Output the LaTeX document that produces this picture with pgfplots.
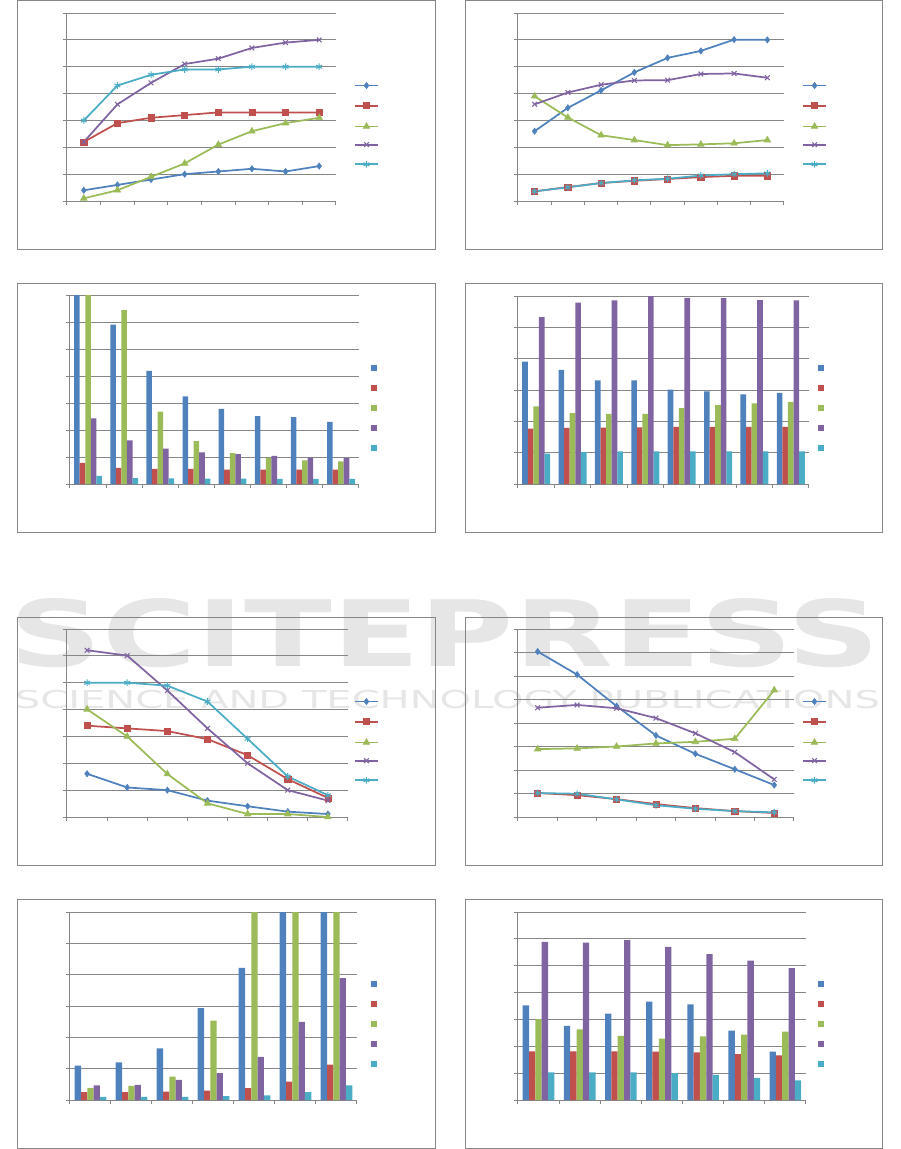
\documentclass[border=0pt]{standalone}
\usepackage{fontspec}
\setmainfont{DejaVu Sans}
\usepackage{graphicx}
\usepackage{pgfplots}
\pgfplotsset{compat=1.18}

\definecolor{xblue}{RGB}{79,129,189}
\definecolor{xred}{RGB}{192,80,77}
\definecolor{xgreen}{RGB}{155,187,89}
\definecolor{xpurple}{RGB}{128,100,162}
\definecolor{xcyan}{RGB}{75,172,198}
\definecolor{axgray}{RGB}{134,134,134}
\definecolor{wm}{RGB}{230,230,230}

\newcommand\legsp{\mbox{}}

\pgfplotsset{
  excel/.style={
    scale only axis, axis lines=left,
    axis line style={-, draw=axgray, line width=0.75pt},
    tick align=outside, major tick length=3pt,
    tick style={draw=axgray, line width=0.75pt},
    xticklabels={}, yticklabels={},
    ymajorgrids, grid style={draw=axgray, line width=0.75pt},
    ymin=0, ytick distance=1, xmin=0.5,
    legend cell align=left,
    legend style={draw=none, fill=none, anchor=west, inner sep=0pt,
      row sep=10.5pt, nodes={inner sep=0pt}},
  },
  lines/.style={excel, clip=false,
    every axis plot/.append style={line width=1.3pt},
    cycle list={
      {xblue, mark=diamond*, mark size=2.3pt, mark options={fill=xblue, line width=0.5pt}},
      {xred, mark=square*, mark size=2.3pt, mark options={fill=xred, line width=0.5pt}},
      {xgreen, mark=triangle*, mark size=2.8pt, mark options={fill=xgreen, line width=0.5pt}},
      {xpurple, mark=x, mark size=2.5pt, mark options={line width=0.8pt}},
      {xcyan, mark=asterisk, mark size=2.5pt, mark options={line width=0.8pt}}},
  },
  bars/.style={excel, ybar=0pt, bar width=0.154,
    every axis plot/.append style={fill, draw=none},
    cycle list={{xblue},{xred},{xgreen},{xpurple},{xcyan}},
    legend image code/.code={\fill[##1] (0pt,-2.25pt) rectangle (4.5pt,2.25pt);},
  },
}

\begin{document}
\begin{tikzpicture}
\path (0,0) rectangle (675.75pt,861.75pt);

% watermark
\node[wm, font=\bfseries, inner sep=0pt] at (333.75pt,387pt)
  {\resizebox*{652.5pt}{52pt}{SCITEPRESS}};
\node[wm, inner sep=0pt] at (335.6pt,337pt)
  {\resizebox*{648.75pt}{14pt}{SCIENCE AND TECHNOLOGY PUBLICATIONS}};

% frames
\draw[axgray, line width=0.75pt] (13.5pt,675pt) rectangle (326.6pt,861.4pt);
\draw[axgray, line width=0.75pt] (349.5pt,675pt) rectangle (662.25pt,861.4pt);
\draw[axgray, line width=0.75pt] (13.5pt,462.75pt) rectangle (326.6pt,649.1pt);
\draw[axgray, line width=0.75pt] (349.5pt,462.75pt) rectangle (662.25pt,649.1pt);
\draw[axgray, line width=0.75pt] (13.5pt,213pt) rectangle (326.6pt,399pt);
\draw[axgray, line width=0.75pt] (349.5pt,213pt) rectangle (662.25pt,399pt);
\draw[axgray, line width=0.75pt] (13.5pt,0.75pt) rectangle (326.6pt,187.5pt);
\draw[axgray, line width=0.75pt] (349.5pt,0.75pt) rectangle (662.25pt,187.5pt);

% panel 1
\begin{axis}[lines, at={(50.25pt,711pt)}, anchor=south west,
  width=201.75pt, height=141pt, xmax=8.5, ymax=7,
  xtick={0.5,1.5,...,8.5}, legend style={at={(1.067,0.404)}}]
\addplot coordinates {(1,0.4)(2,0.6)(3,0.8)(4,1.0)(5,1.1)(6,1.2)(7,1.1)(8,1.3)};
\addplot coordinates {(1,2.2)(2,2.9)(3,3.1)(4,3.2)(5,3.3)(6,3.3)(7,3.3)(8,3.3)};
\addplot coordinates {(1,0.1)(2,0.4)(3,0.9)(4,1.4)(5,2.1)(6,2.6)(7,2.9)(8,3.1)};
\addplot coordinates {(1,2.2)(2,3.6)(3,4.4)(4,5.1)(5,5.3)(6,5.7)(7,5.9)(8,6.0)};
\addplot coordinates {(1,3.0)(2,4.3)(3,4.7)(4,4.9)(5,4.9)(6,5.0)(7,5.0)(8,5.0)};
\legend{\legsp,\legsp,\legsp,\legsp,\legsp}
\end{axis}

% panel 2
\begin{axis}[lines, at={(388.5pt,711pt)}, anchor=south west,
  width=199.5pt, height=141pt, xmax=8.5, ymax=7,
  xtick={0.5,1.5,...,8.5}, legend style={at={(1.068,0.404)}}]
\addplot coordinates {(1,2.6)(2,3.47)(3,4.12)(4,4.79)(5,5.33)(6,5.59)(7,6.01)(8,6.0)};
\addplot coordinates {(1,0.36)(2,0.52)(3,0.67)(4,0.75)(5,0.82)(6,0.89)(7,0.94)(8,0.94)};
\addplot coordinates {(1,3.9)(2,3.11)(3,2.45)(4,2.27)(5,2.08)(6,2.11)(7,2.15)(8,2.27)};
\addplot coordinates {(1,3.6)(2,4.04)(3,4.33)(4,4.49)(5,4.5)(6,4.73)(7,4.75)(8,4.59)};
\addplot coordinates {(1,0.36)(2,0.51)(3,0.67)(4,0.77)(5,0.83)(6,0.95)(7,1.0)(8,1.03)};
\legend{\legsp,\legsp,\legsp,\legsp,\legsp}
\end{axis}

% panel 3
\begin{axis}[bars, at={(52.5pt,498.75pt)}, anchor=south west,
  width=216.75pt, height=141.75pt, xmax=8.5, ymax=7,
  xtick={0.5,1.5,...,8.5}, legend style={at={(1.042,0.402)}}]
\addplot coordinates {(1,7.5)(2,5.9)(3,4.19)(4,3.25)(5,2.78)(6,2.51)(7,2.48)(8,2.30)};
\addplot coordinates {(1,0.78)(2,0.6)(3,0.56)(4,0.56)(5,0.53)(6,0.53)(7,0.53)(8,0.53)};
\addplot coordinates {(1,7.5)(2,6.44)(3,2.68)(4,1.59)(5,1.14)(6,0.98)(7,0.88)(8,0.84)};
\addplot coordinates {(1,2.43)(2,1.62)(3,1.31)(4,1.17)(5,1.11)(6,1.04)(7,0.98)(8,0.96)};
\addplot coordinates {(1,0.30)(2,0.22)(3,0.21)(4,0.2)(5,0.2)(6,0.19)(7,0.19)(8,0.19)};
\legend{\legsp,\legsp,\legsp,\legsp,\legsp}
\end{axis}

% panel 4
\begin{axis}[bars, at={(388.5pt,498.75pt)}, anchor=south west,
  width=218.25pt, height=141pt, xmax=8.5, ymax=6,
  xtick={0.5,1.5,...,8.5}, legend style={at={(1.031,0.404)}}]
\addplot coordinates {(1,3.91)(2,3.64)(3,3.31)(4,3.31)(5,3.01)(6,2.96)(7,2.86)(8,2.91)};
\addplot coordinates {(1,1.77)(2,1.79)(3,1.8)(4,1.81)(5,1.82)(6,1.82)(7,1.82)(8,1.82)};
\addplot coordinates {(1,2.48)(2,2.26)(3,2.24)(4,2.24)(5,2.42)(6,2.52)(7,2.57)(8,2.62)};
\addplot coordinates {(1,5.33)(2,5.79)(3,5.86)(4,6.0)(5,5.94)(6,5.93)(7,5.87)(8,5.86)};
\addplot coordinates {(1,0.97)(2,1.02)(3,1.04)(4,1.04)(5,1.04)(6,1.04)(7,1.04)(8,1.04)};
\legend{\legsp,\legsp,\legsp,\legsp,\legsp}
\end{axis}

% panel 5
\begin{axis}[lines, at={(50.25pt,249pt)}, anchor=south west,
  width=210.75pt, height=141pt, xmax=7.5, ymax=7,
  xtick={0.5,1.5,...,7.5}, legend style={at={(1.021,0.404)}}]
\addplot coordinates {(1,1.61)(2,1.10)(3,1.0)(4,0.61)(5,0.40)(6,0.20)(7,0.11)};
\addplot coordinates {(1,3.4)(2,3.3)(3,3.2)(4,2.9)(5,2.3)(6,1.41)(7,0.71)};
\addplot coordinates {(1,4.01)(2,3.0)(3,1.6)(4,0.51)(5,0.11)(6,0.11)(7,0)};
\addplot coordinates {(1,6.21)(2,6.01)(3,4.71)(4,3.3)(5,2.0)(6,1.0)(7,0.61)};
\addplot coordinates {(1,5.0)(2,5.0)(3,4.89)(4,4.3)(5,2.91)(6,1.51)(7,0.81)};
\legend{\legsp,\legsp,\legsp,\legsp,\legsp}
\end{axis}

% panel 6
\begin{axis}[lines, at={(388.5pt,249pt)}, anchor=south west,
  width=207pt, height=141pt, xmax=7.5, ymax=8,
  xtick={0.5,1.5,...,7.5}, legend style={at={(1.029,0.404)}}]
\addplot coordinates {(1,7.04)(2,6.06)(3,4.72)(4,3.47)(5,2.69)(6,2.03)(7,1.36)};
\addplot coordinates {(1,1.02)(2,0.93)(3,0.76)(4,0.55)(5,0.38)(6,0.25)(7,0.17)};
\addplot coordinates {(1,2.89)(2,2.92)(3,3.0)(4,3.13)(5,3.2)(6,3.33)(7,5.4)};
\addplot coordinates {(1,4.65)(2,4.77)(3,4.63)(4,4.21)(5,3.56)(6,2.76)(7,1.6)};
\addplot coordinates {(1,1.02)(2,0.99)(3,0.75)(4,0.5)(5,0.35)(6,0.25)(7,0.2)};
\legend{\legsp,\legsp,\legsp,\legsp,\legsp}
\end{axis}

% panel 7
\begin{axis}[bars, at={(52.5pt,36.75pt)}, anchor=south west,
  width=215.25pt, height=141pt, xmax=7.5, ymax=6,
  xtick={0.5,1.5,...,7.5}, legend style={at={(1.049,0.404)}}]
\addplot coordinates {(1,1.10)(2,1.2)(3,1.65)(4,2.93)(5,4.22)(6,6.5)(7,6.5)};
\addplot coordinates {(1,0.25)(2,0.25)(3,0.27)(4,0.3)(5,0.38)(6,0.59)(7,1.13)};
\addplot coordinates {(1,0.38)(2,0.45)(3,0.75)(4,2.53)(5,6.5)(6,6.5)(7,6.5)};
\addplot coordinates {(1,0.47)(2,0.48)(3,0.64)(4,0.86)(5,1.38)(6,2.49)(7,3.89)};
\addplot coordinates {(1,0.1)(2,0.1)(3,0.1)(4,0.12)(5,0.15)(6,0.25)(7,0.47)};
\legend{\legsp,\legsp,\legsp,\legsp,\legsp}
\end{axis}

% panel 8
\begin{axis}[bars, at={(388.5pt,36.75pt)}, anchor=south west,
  width=216pt, height=141pt, xmax=7.5, ymax=7,
  xtick={0.5,1.5,...,7.5}, legend style={at={(1.042,0.404)}}]
\addplot coordinates {(1,3.52)(2,2.76)(3,3.22)(4,3.66)(5,3.56)(6,2.58)(7,1.8)};
\addplot coordinates {(1,1.81)(2,1.81)(3,1.81)(4,1.8)(5,1.77)(6,1.71)(7,1.66)};
\addplot coordinates {(1,3.01)(2,2.63)(3,2.39)(4,2.29)(5,2.37)(6,2.43)(7,2.55)};
\addplot coordinates {(1,5.89)(2,5.86)(3,5.95)(4,5.7)(5,5.43)(6,5.19)(7,4.91)};
\addplot coordinates {(1,1.03)(2,1.03)(3,1.03)(4,1.0)(5,0.94)(6,0.82)(7,0.73)};
\legend{\legsp,\legsp,\legsp,\legsp,\legsp}
\end{axis}
\end{tikzpicture}
\end{document}
